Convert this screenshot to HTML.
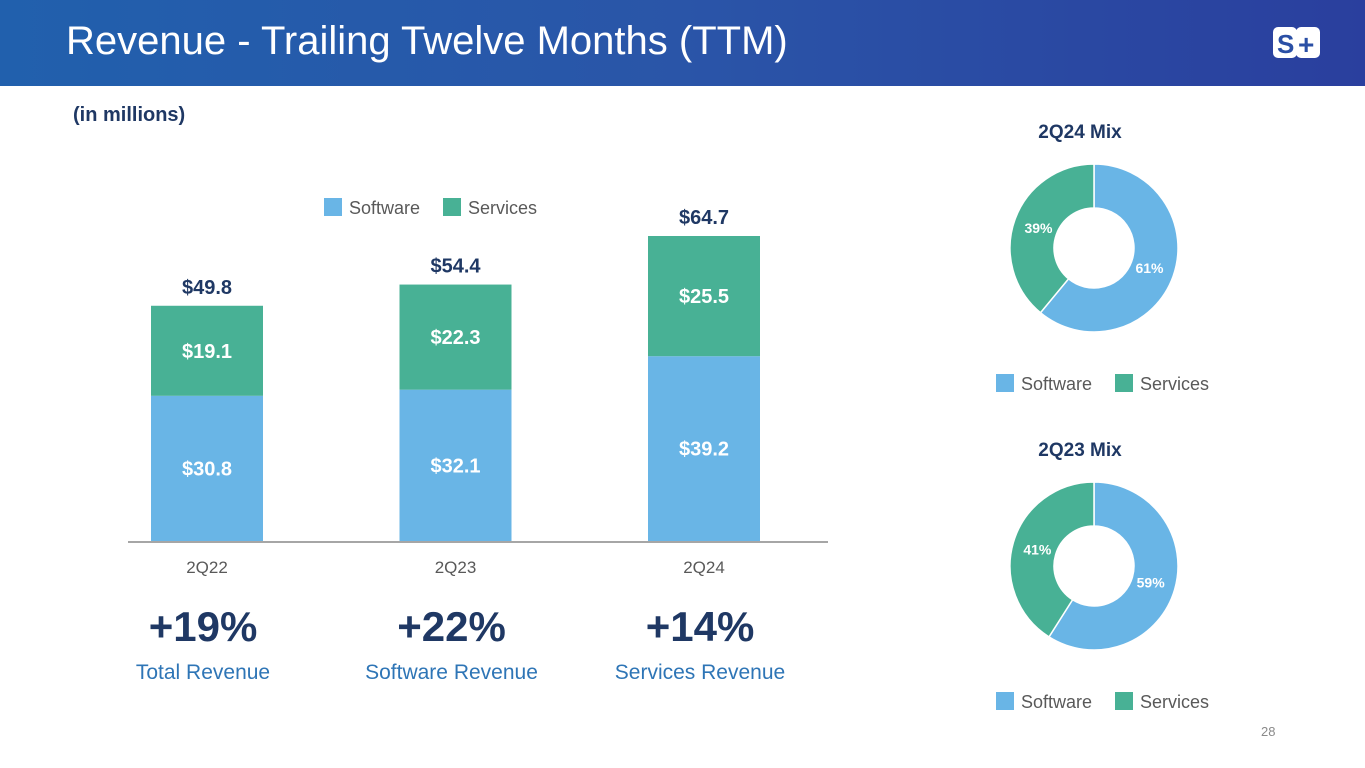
<!DOCTYPE html>
<html><head><meta charset="utf-8"><style>
body{margin:0;width:1365px;height:768px;overflow:hidden;background:#fff;font-family:"Liberation Sans",sans-serif;position:relative}
.hdr{position:absolute;left:0;top:0;width:1365px;height:86px;background:linear-gradient(90deg,#2160ad,#2a55a8 50%,#2a3f9e)}
.title{position:absolute;left:66px;top:19px;color:#fff;font-size:40px;letter-spacing:0px}
.t{position:absolute;white-space:nowrap}
</style></head><body>
<div class="hdr"></div>
<div class="title">Revenue - Trailing Twelve Months (TTM)</div>
<svg style="position:absolute;left:1272px;top:24px" width="50" height="40">
<rect x="1" y="3" width="24" height="31" rx="5" fill="#fff"/><rect x="24" y="3" width="24" height="31" rx="5" fill="#fff"/>
<text x="5" y="29" font-size="26" font-weight="bold" fill="#2a4fa5" font-family="Liberation Sans">S</text>
<text x="26" y="30" font-size="28" font-weight="bold" fill="#2a4fa5" font-family="Liberation Sans">+</text></svg>
<div class="t" style="left:73px;top:104px;font-size:20px;font-weight:bold;color:#1f3864">(in millions)</div>
<svg id="chart" style="position:absolute;left:0;top:0" width="1365" height="768"></svg>
<div class="t" style="left:1261px;top:724px;font-size:13px;color:#8a8a8a">28</div>
<script>
const categories=["2Q22","2Q23","2Q24"];
const software=[30.8,32.1,39.2];
const services=[19.1,22.3,25.5];
const totals=[49.8,54.4,64.7];
const growthValues=["+19%","+22%","+14%"];
const growthLabels=["Total Revenue","Software Revenue","Services Revenue"];
const mixTitles=["2Q24 Mix","2Q23 Mix"];
const mixSoftware=[61,59];
const mixServices=[39,41];
const SW="#69b5e6",SV="#48b195",NAVY="#1f3864";
const svg=document.getElementById('chart');const NS="http://www.w3.org/2000/svg";
function mk(tag,attrs,txt){const e=document.createElementNS(NS,tag);for(const k in attrs)e.setAttribute(k,attrs[k]);if(txt!==undefined)e.textContent=txt;svg.appendChild(e);return e;}
const base=541,scale=305/64.7;
const y=v=>base-v*scale;
const xc=i=>207+i*248.5;
const bw=112;
let e=mk('line',{x1:128,x2:828,y1:base+1,y2:base+1,stroke:'#a6a6a6','stroke-width':2});


categories.forEach((c,i)=>{
 const x=xc(i)-bw/2;
 let b=mk('rect',{x:x,y:y(software[i]),width:bw,height:software[i]*scale,fill:SW});
 
 
 b=mk('rect',{x:x,y:y(software[i]+services[i]),width:bw,height:services[i]*scale,fill:SV});
 
 
 let t=mk('text',{x:xc(i),y:y(software[i]/2)+7,'text-anchor':'middle','font-size':20,'font-weight':'bold',fill:'#fff'},'$'+software[i].toFixed(1));
 
 
 t=mk('text',{x:xc(i),y:y(software[i]+services[i]/2)+7,'text-anchor':'middle','font-size':20,'font-weight':'bold',fill:'#fff'},'$'+services[i].toFixed(1));
 
 
 t=mk('text',{x:xc(i),y:y(totals[i])-12,'text-anchor':'middle','font-size':20,'font-weight':'bold',fill:NAVY},'$'+totals[i].toFixed(1));
 
 
 t=mk('text',{x:xc(i),y:573,'text-anchor':'middle','font-size':17,fill:'#595959'},c);
 
 
 t=mk('text',{x:xc(i)-4,y:641,'text-anchor':'middle','font-size':42,'font-weight':'bold',fill:NAVY},growthValues[i]);
 
 
 t=mk('text',{x:xc(i)-4,y:679,'text-anchor':'middle','font-size':21,fill:'#2e75b6'},growthLabels[i]);
 
 
});
function legend(x,yy,nm){
 let r=mk('rect',{x:x,y:yy,width:18,height:18,fill:SW});
 let t=mk('text',{x:x+25,y:yy+16,'font-size':18,fill:'#595959'},'Software');
 r=mk('rect',{x:x+119,y:yy,width:18,height:18,fill:SV});
 t=mk('text',{x:x+144,y:yy+16,'font-size':18,fill:'#595959'},'Services');
}
legend(324,198,'bar-legend');
const cys=[248,566],cx=1094,R=84,r0=40;
mixTitles.forEach((tt,k)=>{
 const cy=cys[k];
 const P=(a,r)=>(cx+r*Math.sin(a)).toFixed(2)+','+(cy-r*Math.cos(a)).toFixed(2);
 const seg=(a0,a1,col,nm)=>{const lg=(a1-a0)>Math.PI?1:0;
  const p=mk('path',{d:'M'+P(a0,R)+' A'+R+','+R+' 0 '+lg+' 1 '+P(a1,R)+' L'+P(a1,r0)+' A'+r0+','+r0+' 0 '+lg+' 0 '+P(a0,r0)+'Z',fill:col,stroke:'#fff','stroke-width':1.5});
  
  };
 const tot=mixSoftware[k]+mixServices[k];
 const aS=mixSoftware[k]/tot*2*Math.PI;
 seg(0,aS,SW,'donut-software-slice');
 seg(aS,2*Math.PI,SV,'donut-services-slice');
 const lr=59;
 let a=aS/2;
 let t=mk('text',{x:cx+lr*Math.sin(a),y:cy-lr*Math.cos(a)+5,'text-anchor':'middle','font-size':14,'font-weight':'bold',fill:'#fff'},mixSoftware[k]+'%');
 
 a=aS+(2*Math.PI-aS)/2;
 t=mk('text',{x:cx+lr*Math.sin(a),y:cy-lr*Math.cos(a)+5,'text-anchor':'middle','font-size':14,'font-weight':'bold',fill:'#fff'},mixServices[k]+'%');
 
 t=mk('text',{x:1080,y:cy-110,'text-anchor':'middle','font-size':19,'font-weight':'bold',fill:NAVY},tt);
 
 legend(996,cy+126,'donut-legend');
});
</script>
</body></html>
